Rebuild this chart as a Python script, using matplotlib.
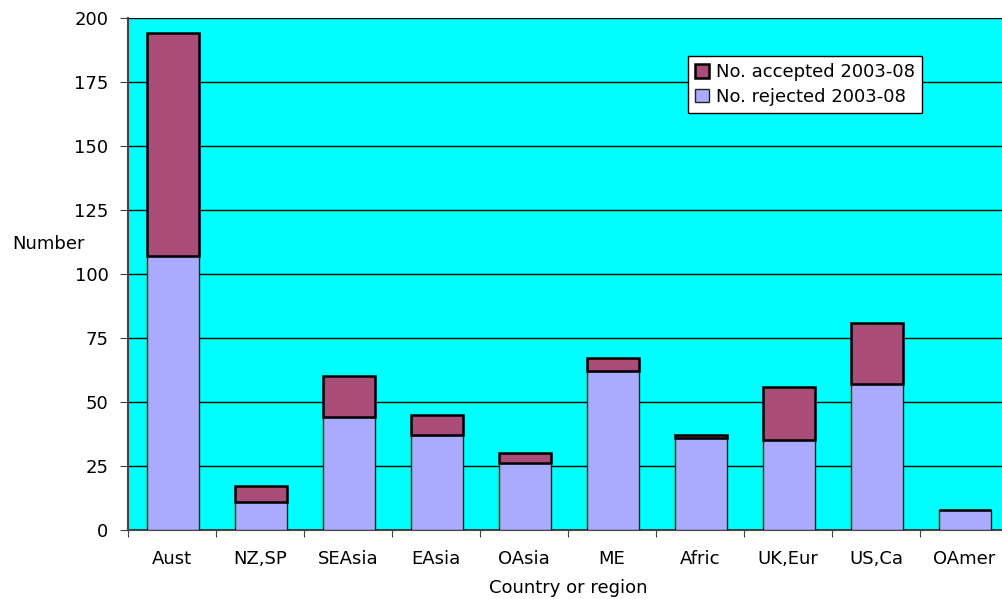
import numpy as np
import matplotlib
matplotlib.use("Agg")
import matplotlib.pyplot as plt

# ---------- data ----------
regions  = ["Aust", "NZ,SP", "SEAsia", "EAsia", "OAsia", "ME", "Afric", "UK,Eur", "US,Ca", "OAmer"]
rejected = [107, 11, 44, 37, 26, 62, 36, 35, 57, 8]
accepted = [87, 6, 16, 8, 4, 5, 1, 21, 24, 0]

yticks = [0, 25, 50, 75, 100, 125, 150, 175, 200]

REJ_COL = "#aaaaff"
ACC_COL = "#a94c78"
BG_COL  = "#00ffff"
FS = 13

plt.rcParams["font.family"] = ["DejaVu Sans"]

fig = plt.figure(figsize=(10.03, 5.99), dpi=100)
# plot area runs off the right edge of the image in the original
ax = fig.add_axes([128 / 1003, 69 / 599, 880 / 1003, 512 / 599])
ax.set_facecolor(BG_COL)

x = np.arange(len(regions))
w = 0.59
ax.bar(x + 0.01, rejected, width=w, color=REJ_COL, edgecolor="#222222", linewidth=1,
       label="No. rejected 2003-08", zorder=3)
ax.bar(x + 0.01, accepted, width=w, bottom=rejected, color=ACC_COL, edgecolor="black",
       linewidth=1.8, label="No. accepted 2003-08", zorder=3)

ax.set_xlim(-0.5, len(regions) - 0.5)
ax.set_ylim(0, 200)
ax.set_yticks(yticks)
ax.yaxis.grid(True, color="black", linewidth=1, zorder=1)
ax.set_axisbelow(True)

# x ticks sit between categories, labels centred under bars
ax.set_xticks(np.arange(-0.5, len(regions), 1.0))
ax.set_xticklabels([])
ax.set_xticks(x, minor=True)
ax.set_xticklabels(regions, minor=True)
ax.tick_params(axis="x", which="minor", length=0, pad=14.5, labelsize=FS)
ax.tick_params(axis="x", which="major", direction="out", length=5, color="#444444")
ax.tick_params(axis="y", direction="out", length=6, color="#444444", labelsize=FS, pad=8)

for s in ["top", "right"]:
    ax.spines[s].set_visible(False)
ax.spines["left"].set_color("#444444")
ax.spines["bottom"].set_color("#444444")
ax.spines["left"].set_linewidth(1.5)
ax.spines["bottom"].set_linewidth(1.5)

ax.set_xlabel("Country or region", fontsize=FS, labelpad=7.5)
fig.text(12 / 1003, 1 - 244 / 599, "Number", fontsize=FS, va="center", ha="left")

handles, labels = ax.get_legend_handles_labels()
leg = ax.legend(handles[::-1], labels[::-1], loc="upper left",
                bbox_to_anchor=((688 - 128) / 880, (530 - 56) / 512),
                frameon=True, fancybox=False, edgecolor="black", facecolor="white",
                framealpha=1, fontsize=FS, handlelength=0.75, handleheight=0.75,
                handletextpad=0.4, borderpad=0.4, labelspacing=0.35, borderaxespad=0)
leg.get_frame().set_linewidth(1)

fig.savefig("out.png", dpi=100)
